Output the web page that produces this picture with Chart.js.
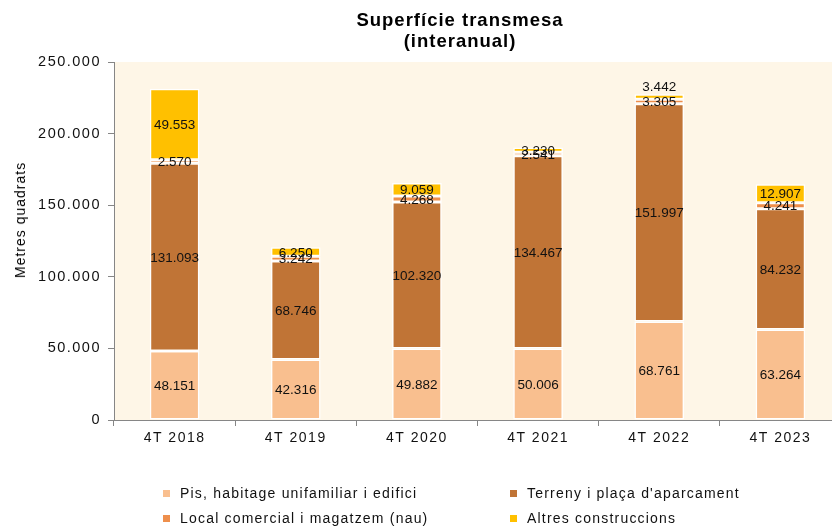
<!DOCTYPE html>
<html>
<head>
<meta charset="utf-8">
<script src="https://cdn.jsdelivr.net/npm/chart.js@4.4.1/dist/chart.umd.min.js"></script>
<style>
  html, body { margin:0; padding:0; width:832px; height:528px; overflow:hidden; background:#fff; }
  #wrap { position:relative; width:920px; height:528px; }
  canvas { position:absolute; left:0; top:0; }
  #title { position:absolute; left:0; top:9px; width:920px; text-align:center; font:bold 18.5px "Liberation Sans", Arial, sans-serif; letter-spacing:1px; line-height:21px; color:#000; }
  #ytitle { position:absolute; left:20px; top:220px; transform:translate(-50%,-50%) rotate(-90deg); white-space:nowrap; font:14px "Liberation Sans", Arial, sans-serif; letter-spacing:1px; color:#000; }
  .lg { position:absolute; font:14px "Liberation Sans", Arial, sans-serif; letter-spacing:1.2px; color:#111; white-space:nowrap; line-height:16px; }
  .lg span.m { display:inline-block; width:7px; height:7px; margin-right:10px; vertical-align:1px; }
</style>
</head>
<body>
<div id="wrap">
  <canvas id="c" width="920" height="528"></canvas>
  <div id="title">Superfície transmesa<br>(interanual)</div>
  <div id="ytitle">Metres quadrats</div>
  <div id="legend"></div>
</div>
<script>
const categories = ["4T 2018", "4T 2019", "4T 2020", "4T 2021", "4T 2022", "4T 2023"];
const seriesNames = ["Pis, habitage unifamiliar i edifici", "Terreny i plaça d'aparcament", "Local comercial i magatzem (nau)", "Altres construccions"];
const pis = [48151, 42316, 49882, 50006, 68761, 63264];
const terreny = [131093, 68746, 102320, 134467, 151997, 84232];
const local = [2570, 3242, 4268, 2541, 3305, 4241];
const altres = [49553, 6250, 9059, 3230, 3442, 12907];
const yTicks = [0, 50000, 100000, 150000, 200000, 250000];

const colors = ["#F9BF8F", "#C07436", "#EE8F4C", "#FFC000"];

function fmt(n) { return String(n).replace(/\B(?=(\d{3})+(?!\d))/g, "."); }

const bgPlugin = {
  id: 'plotBg',
  beforeDraw(chart) {
    const a = chart.chartArea, ctx = chart.ctx;
    ctx.save();
    ctx.fillStyle = '#FEF6E7';
    ctx.fillRect(a.left, a.top, a.right - a.left, a.bottom - a.top);
    ctx.restore();
    ctx.letterSpacing = '1.5px';
  }
};

const labelPlugin = {
  id: 'barLabels',
  afterDatasetsDraw(chart) {
    const ctx = chart.ctx;
    ctx.save();
    ctx.letterSpacing = '0px';
    ctx.font = '13.5px "Liberation Sans", Arial, sans-serif';
    ctx.fillStyle = '#111';
    ctx.textAlign = 'center';
    ctx.textBaseline = 'middle';
    chart.data.datasets.forEach((ds, di) => {
      const meta = chart.getDatasetMeta(di);
      meta.data.forEach((el, i) => {
        const v = ds.data[i];
        let y = (el.y + el.base) / 2;
        if (ds.labelAbove && ds.labelAbove[i]) y = el.y - 8;
        ctx.fillText(fmt(v), el.x, y + 1);
      });
    });
    ctx.restore();
  }
};

const dataSets = [pis, terreny, local, altres].map((d, k) => ({
  label: seriesNames[k],
  data: d,
  backgroundColor: colors[k],
  borderColor: '#ffffff',
  borderWidth: 1.5,
  borderSkipped: false,
  categoryPercentage: 1.0,
  barPercentage: 0.41
}));
dataSets[3].labelAbove = [false, false, false, false, true, false];

new Chart(document.getElementById('c'), {
  type: 'bar',
  data: { labels: categories, datasets: dataSets },
  options: {
    responsive: false,
    animation: false,
    layout: { padding: { top: 62, right: 79, bottom: 0, left: 0 } },
    plugins: { legend: { display: false }, title: { display: false }, tooltip: { enabled: false } },
    scales: {
      x: {
        stacked: true,
        afterFit(s) { s.height = 108; },
        grid: { display: true, drawOnChartArea: false, drawTicks: true, tickLength: 6, color: '#868686', offset: true },
        border: { display: true, color: '#868686', width: 1 },
        ticks: { color: '#111', padding: 4, font: { family: '"Liberation Sans", Arial, sans-serif', size: 14 } }
      },
      y: {
        stacked: true,
        min: 0, max: 250000,
        afterFit(s) { s.width = 114; },
        afterBuildTicks(s) { s.ticks = yTicks.map(v => ({ value: v })); },
        grid: { display: true, drawOnChartArea: false, drawTicks: true, tickLength: 6, color: '#868686' },
        border: { display: true, color: '#868686', width: 1 },
        ticks: { color: '#111', padding: 7, font: { family: '"Liberation Sans", Arial, sans-serif', size: 14.5 }, callback: v => fmt(v) }
      }
    }
  },
  plugins: [bgPlugin, labelPlugin]
});

// HTML legend (2 x 2 grid)
const lgPos = [[163, 485], [510, 485], [163, 510], [510, 510]];
const lgEl = document.getElementById('legend');
seriesNames.forEach((name, k) => {
  const d = document.createElement('div');
  d.className = 'lg';
  d.style.left = lgPos[k][0] + 'px';
  d.style.top = lgPos[k][1] + 'px';
  const m = document.createElement('span');
  m.className = 'm';
  m.style.background = colors[k];
  d.appendChild(m);
  d.appendChild(document.createTextNode(name));
  lgEl.appendChild(d);
});
</script>
</body>
</html>
